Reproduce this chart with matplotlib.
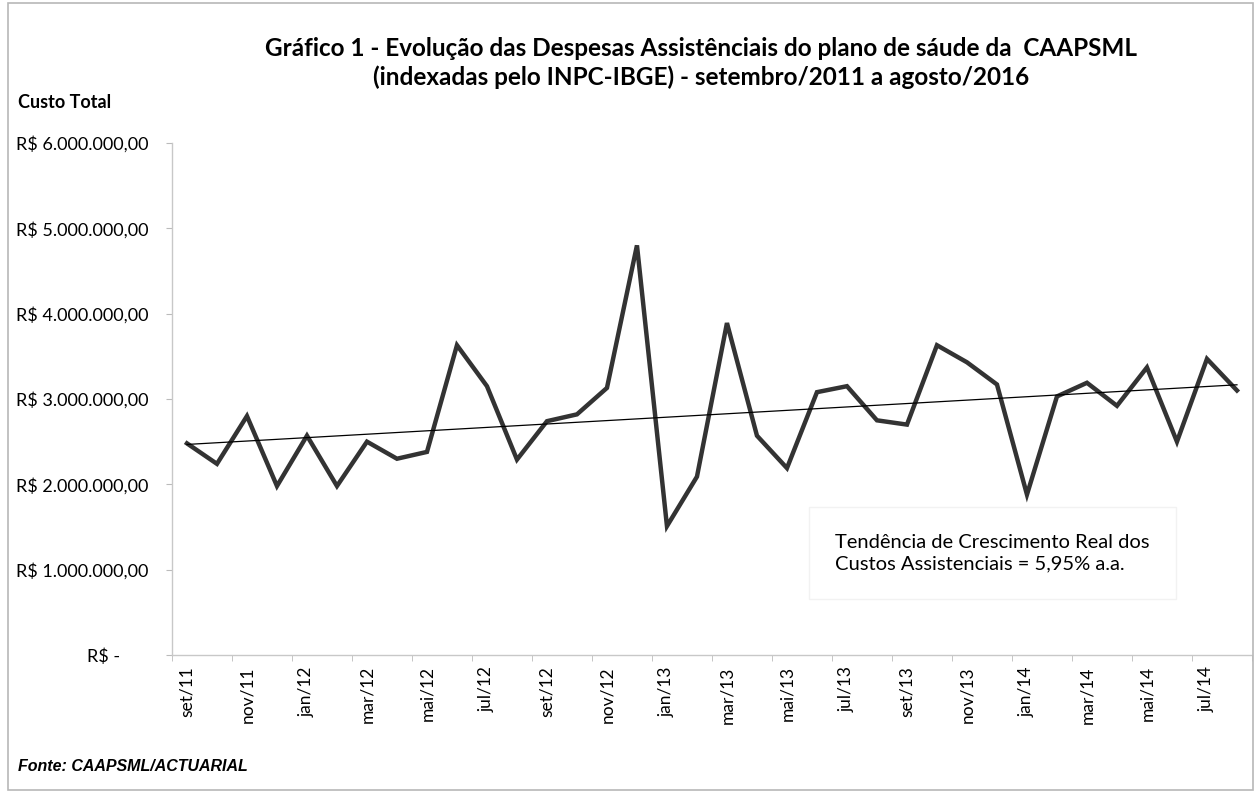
import numpy as np
import matplotlib
matplotlib.use("Agg")
import matplotlib.pyplot as plt
from matplotlib.patches import Rectangle

# monthly cost, set/11 .. ago/14 (R$ millions)
months = ["set/11", "out/11", "nov/11", "dez/11", "jan/12", "fev/12", "mar/12", "abr/12",
          "mai/12", "jun/12", "jul/12", "ago/12", "set/12", "out/12", "nov/12", "dez/12",
          "jan/13", "fev/13", "mar/13", "abr/13", "mai/13", "jun/13", "jul/13", "ago/13",
          "set/13", "out/13", "nov/13", "dez/13", "jan/14", "fev/14", "mar/14", "abr/14",
          "mai/14", "jun/14", "jul/14", "ago/14"]
custo_mi = [2.48, 2.24, 2.80, 1.98, 2.57, 1.98, 2.50, 2.30,
            2.38, 3.63, 3.15, 2.29, 2.74, 2.82, 3.13, 4.80,
            1.51, 2.09, 3.89, 2.57, 2.19, 3.08, 3.15, 2.75,
            2.70, 3.63, 3.43, 3.17, 1.88, 3.03, 3.19, 2.92,
            3.37, 2.50, 3.47, 3.10]
yticks = [0, 1e6, 2e6, 3e6, 4e6, 5e6, 6e6]

font = "Lato"
plt.rcParams['font.family'] = [font, 'DejaVu Sans']

custo = np.array(custo_mi) * 1e6
x = np.arange(len(months))

fig = plt.figure(figsize=(12.58, 7.96), dpi=100)
fig.patches.append(Rectangle((0.006, 0.008), 0.99, 0.988, transform=fig.transFigure,
                             fill=False, edgecolor='#b8b8b8', linewidth=1.2))

ax = fig.add_axes([0.1367, 0.1771, 0.8585, 0.6433])
ax.plot(x, custo, color='#333333', linewidth=3.2, solid_joinstyle='miter')

# linear trend
coef = np.polyfit(x, custo, 1)
ax.plot(x, np.polyval(coef, x), color='black', linewidth=0.9)

ax.set_xlim(-0.5, len(months) - 0.5)
ax.set_ylim(0, 6e6)

def brl(v):
    if v == 0:
        return "R$ -      "
    s = f"{v:,.2f}".replace(",", "X").replace(".", ",").replace("X", ".")
    return "R$ " + s

ax.set_yticks(yticks)
ax.set_yticklabels([brl(v) for v in yticks], fontsize=13)
ax.set_xticks(x[::2])
ax.set_xticklabels(months[::2], rotation=90, fontsize=12.5)
ax.set_xticks(np.arange(-0.5, len(months), 2), minor=True)
ax.tick_params(axis='x', which='major', length=0, pad=8)
ax.tick_params(axis='x', which='minor', length=4, color='#bbbbbb')
ax.tick_params(axis='y', length=4, color='#bbbbbb', pad=13)

for side in ['top', 'right']:
    ax.spines[side].set_visible(False)
for side in ['left', 'bottom']:
    ax.spines[side].set_color('#c8c8c8')
    ax.spines[side].set_linewidth(1.0)

fig.text(0.557, 0.921, "Gráfico 1 - Evolução das Despesas Assistênciais do plano de sáude da  CAAPSML\n"
         "(indexadas pelo INPC-IBGE) - setembro/2011 a agosto/2016",
         ha='center', va='center', fontsize=17.5, fontweight='bold', linespacing=1.3)
fig.text(0.014, 0.871, "Custo Total", fontsize=13, fontweight='bold', ha='left', va='center')
fig.text(0.014, 0.037, "Fonte: CAAPSML/ACTUARIAL", fontsize=11.5, fontweight='bold',
         fontstyle='italic', family='Liberation Sans', ha='left', va='center')

ax.text(0.614, 0.199, "Tendência de Crescimento Real dos\nCustos Assistenciais = 5,95% a.a.",
        transform=ax.transAxes, fontsize=14.5, ha='left', va='center', linespacing=1.35,
        bbox=dict(boxstyle='square,pad=1.3', facecolor='white', edgecolor='#f2f2f2'))

fig.savefig("out.png", dpi=100)
